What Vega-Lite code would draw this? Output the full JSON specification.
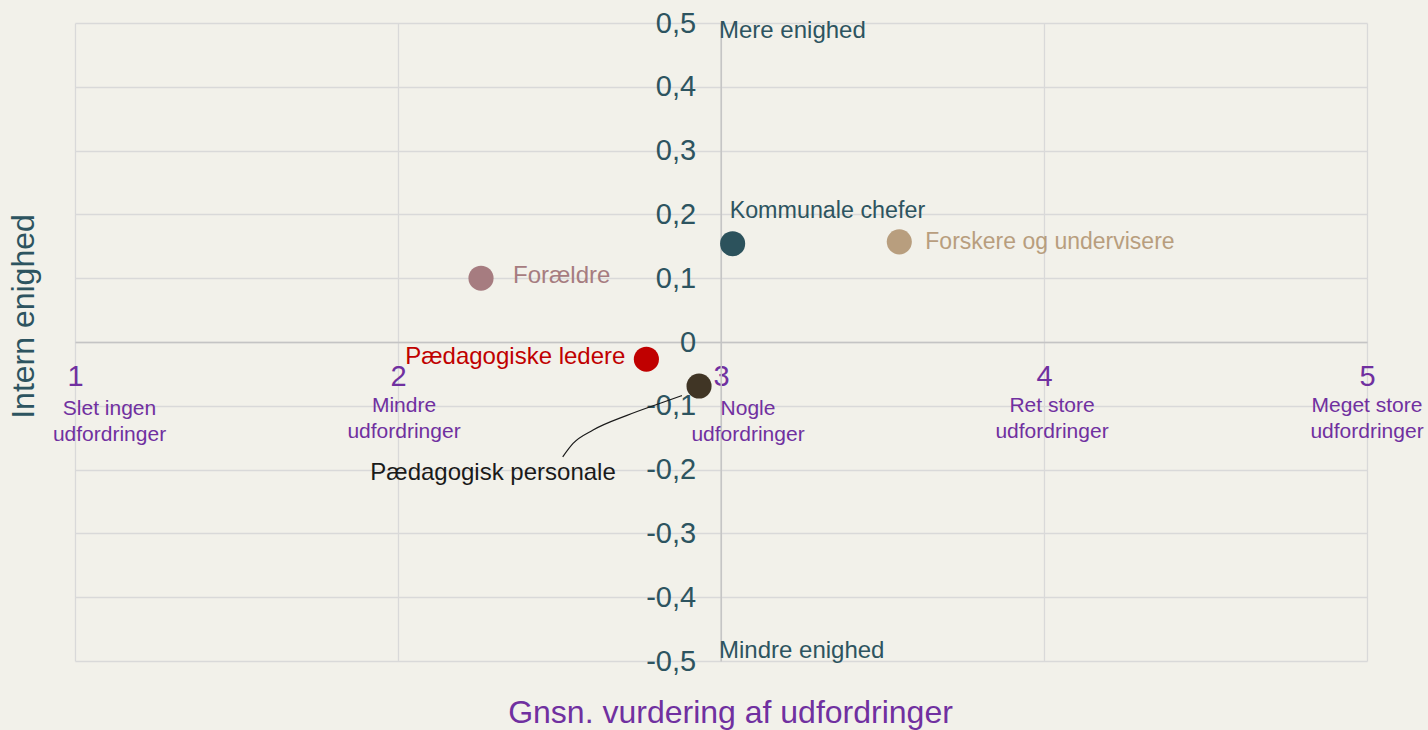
{
  "$schema": "https://vega.github.io/schema/vega-lite/v6.json",
  "width": 1292,
  "height": 638,
  "autosize": {"type": "none"},
  "padding": {"left": 75, "top": 23, "right": 61, "bottom": 69},
  "background": "#f2f1ea",
  "config": {"view": {"stroke": null}, "font": "Liberation Sans"},
  "datasets": {
    "grupper": [
      {"gruppe": "Kommunale chefer", "udfordringer": 3.036, "enighed": 0.154},
      {"gruppe": "Forskere og undervisere", "udfordringer": 3.552, "enighed": 0.157},
      {"gruppe": "Forældre", "udfordringer": 2.257, "enighed": 0.1},
      {"gruppe": "Pædagogiske ledere", "udfordringer": 2.769, "enighed": -0.027},
      {"gruppe": "Pædagogisk personale", "udfordringer": 2.932, "enighed": -0.069}
    ],
    "skala": [
      {"udfordringer": 1, "etiket": "Slet ingen\nudfordringer"},
      {"udfordringer": 2, "etiket": "Mindre\nudfordringer"},
      {"udfordringer": 3, "etiket": "Nogle\nudfordringer"},
      {"udfordringer": 4, "etiket": "Ret store\nudfordringer"},
      {"udfordringer": 5, "etiket": "Meget store\nudfordringer"}
    ],
    "forbindelse": [
      {"udfordringer": 2.51, "enighed": -0.18},
      {"udfordringer": 2.542, "enighed": -0.159},
      {"udfordringer": 2.604, "enighed": -0.138},
      {"udfordringer": 2.709, "enighed": -0.115},
      {"udfordringer": 2.812, "enighed": -0.096},
      {"udfordringer": 2.879, "enighed": -0.084}
    ]
  },
  "layer": [
    {
      "data": {"name": "grupper"},
      "mark": {"type": "point", "filled": true, "opacity": 0},
      "encoding": {
        "x": {
          "field": "udfordringer", "type": "quantitative",
          "scale": {"domain": [1, 5], "nice": false, "zero": false},
          "axis": {
            "values": [1, 2, 3, 4, 5], "format": "d", "offset": -319, "ticks": false,
            "grid": true, "gridColor": "#d9d9d9", "gridWidth": 1.3,
            "domainColor": "#c4c4c4", "domainWidth": 1.5,
            "labelFontSize": 29, "labelColor": "#7030a0", "labelPadding": 34,
            "labelBaseline": "middle", "labelFlush": false, "labelOverlap": false,
            "title": "Gnsn. vurdering af udfordringer", "titleFontSize": 32,
            "titleColor": "#7030a0", "titleFontWeight": "normal",
            "titleX": 655, "titleY": 370, "titleBaseline": "middle", "titleAlign": "center", "titleAnchor": null
          }
        },
        "y": {
          "field": "enighed", "type": "quantitative",
          "scale": {"domain": [-0.5, 0.5], "nice": false, "zero": false},
          "axis": {
            "values": [-0.5, -0.4, -0.3, -0.2, -0.1, 0, 0.1, 0.2, 0.3, 0.4, 0.5],
            "labelExpr": "datum.value == 0 ? '0' : (datum.value < 0 ? '-' : '') + replace(format(abs(datum.value), '.1f'), '.', ',')",
            "offset": -645.7, "ticks": false,
            "grid": true, "gridColor": "#d9d9d9", "gridWidth": 1.3,
            "domainColor": "#c4c4c4", "domainWidth": 1.5,
            "labelFontSize": 29, "labelColor": "#2d5460", "labelPadding": 25,
            "labelFlush": false, "labelOverlap": false,
            "title": "Intern enighed", "titleFontSize": 32, "titleColor": "#2d5460",
            "titleFontWeight": "normal", "titleAngle": -90,
            "titleX": -697.7, "titleY": 293, "titleBaseline": "middle", "titleAlign": "center", "titleAnchor": null
          }
        }
      }
    },
    {
      "data": {"name": "forbindelse"},
      "mark": {"type": "line", "interpolate": "monotone", "color": "#1a1a1a", "strokeWidth": 1.2},
      "encoding": {
        "x": {"field": "udfordringer", "type": "quantitative"},
        "y": {"field": "enighed", "type": "quantitative"}
      }
    },
    {
      "data": {"name": "grupper"},
      "mark": {"type": "circle", "size": 630, "opacity": 1},
      "encoding": {
        "x": {"field": "udfordringer", "type": "quantitative"},
        "y": {"field": "enighed", "type": "quantitative"},
        "color": {
          "field": "gruppe", "type": "nominal", "legend": null,
          "scale": {
            "domain": ["Kommunale chefer", "Forskere og undervisere", "Forældre", "Pædagogiske ledere", "Pædagogisk personale"],
            "range": ["#2c525c", "#b89e7e", "#a67c80", "#c00000", "#403525"]
          }
        }
      }
    },
    {
      "data": {"name": "grupper"},
      "transform": [{"filter": "datum.gruppe == 'Kommunale chefer'"}],
      "mark": {"type": "text", "align": "left", "baseline": "middle", "dx": -3, "dy": -33, "fontSize": 23.3, "color": "#2d5460"},
      "encoding": {
        "x": {"field": "udfordringer", "type": "quantitative"},
        "y": {"field": "enighed", "type": "quantitative"},
        "text": {"field": "gruppe"}
      }
    },
    {
      "data": {"name": "grupper"},
      "transform": [{"filter": "datum.gruppe == 'Forskere og undervisere'"}],
      "mark": {"type": "text", "align": "left", "baseline": "middle", "dx": 26, "dy": 0, "fontSize": 23, "color": "#b89e7e"},
      "encoding": {
        "x": {"field": "udfordringer", "type": "quantitative"},
        "y": {"field": "enighed", "type": "quantitative"},
        "text": {"field": "gruppe"}
      }
    },
    {
      "data": {"name": "grupper"},
      "transform": [{"filter": "datum.gruppe == 'Forældre'"}],
      "mark": {"type": "text", "align": "left", "baseline": "middle", "dx": 32, "dy": -2, "fontSize": 24, "color": "#a67c80"},
      "encoding": {
        "x": {"field": "udfordringer", "type": "quantitative"},
        "y": {"field": "enighed", "type": "quantitative"},
        "text": {"field": "gruppe"}
      }
    },
    {
      "data": {"name": "grupper"},
      "transform": [{"filter": "datum.gruppe == 'Pædagogiske ledere'"}],
      "mark": {"type": "text", "align": "right", "baseline": "middle", "dx": -21, "dy": -2, "fontSize": 24, "color": "#c00000"},
      "encoding": {
        "x": {"field": "udfordringer", "type": "quantitative"},
        "y": {"field": "enighed", "type": "quantitative"},
        "text": {"field": "gruppe"}
      }
    },
    {
      "data": {"name": "grupper"},
      "transform": [{"filter": "datum.gruppe == 'Pædagogisk personale'"}],
      "mark": {"type": "text", "align": "center", "baseline": "middle", "dx": -206, "dy": 87, "fontSize": 24, "color": "#1a1a1a"},
      "encoding": {
        "x": {"field": "udfordringer", "type": "quantitative"},
        "y": {"field": "enighed", "type": "quantitative"},
        "text": {"field": "gruppe"}
      }
    },
    {
      "data": {"name": "skala"},
      "transform": [{"filter": "datum.udfordringer == 1"}],
      "mark": {"type": "text", "align": "center", "baseline": "top", "lineBreak": "\n", "lineHeight": 26, "dx": 34.5, "dy": 2, "fontSize": 21, "color": "#7030a0"},
      "encoding": {
        "x": {"field": "udfordringer", "type": "quantitative"},
        "y": {"datum": -0.084},
        "text": {"field": "etiket"}
      }
    },
    {
      "data": {"name": "skala"},
      "transform": [{"filter": "datum.udfordringer == 2"}],
      "mark": {"type": "text", "align": "center", "baseline": "top", "lineBreak": "\n", "lineHeight": 26, "dx": 6, "dy": -1, "fontSize": 21, "color": "#7030a0"},
      "encoding": {
        "x": {"field": "udfordringer", "type": "quantitative"},
        "y": {"datum": -0.084},
        "text": {"field": "etiket"}
      }
    },
    {
      "data": {"name": "skala"},
      "transform": [{"filter": "datum.udfordringer == 3"}],
      "mark": {"type": "text", "align": "center", "baseline": "top", "lineBreak": "\n", "lineHeight": 26, "dx": 27, "dy": 2, "fontSize": 21, "color": "#7030a0"},
      "encoding": {
        "x": {"field": "udfordringer", "type": "quantitative"},
        "y": {"datum": -0.084},
        "text": {"field": "etiket"}
      }
    },
    {
      "data": {"name": "skala"},
      "transform": [{"filter": "datum.udfordringer == 4"}],
      "mark": {"type": "text", "align": "center", "baseline": "top", "lineBreak": "\n", "lineHeight": 26, "dx": 8, "dy": -1, "fontSize": 21, "color": "#7030a0"},
      "encoding": {
        "x": {"field": "udfordringer", "type": "quantitative"},
        "y": {"datum": -0.084},
        "text": {"field": "etiket"}
      }
    },
    {
      "data": {"name": "skala"},
      "transform": [{"filter": "datum.udfordringer == 5"}],
      "mark": {"type": "text", "align": "center", "baseline": "top", "lineBreak": "\n", "lineHeight": 26, "dx": 0, "dy": -1, "fontSize": 21, "color": "#7030a0"},
      "encoding": {
        "x": {"field": "udfordringer", "type": "quantitative"},
        "y": {"datum": -0.084},
        "text": {"field": "etiket"}
      }
    },
    {
      "data": {"values": [{"tekst": "Mere enighed", "udfordringer": 3, "enighed": 0.487}, {"tekst": "Mindre enighed", "udfordringer": 3, "enighed": -0.4845}]},
      "mark": {"type": "text", "align": "left", "baseline": "middle", "dx": -2, "fontSize": 24, "color": "#2d5460"},
      "encoding": {
        "x": {"field": "udfordringer", "type": "quantitative"},
        "y": {"field": "enighed", "type": "quantitative"},
        "text": {"field": "tekst"}
      }
    }
  ]
}
